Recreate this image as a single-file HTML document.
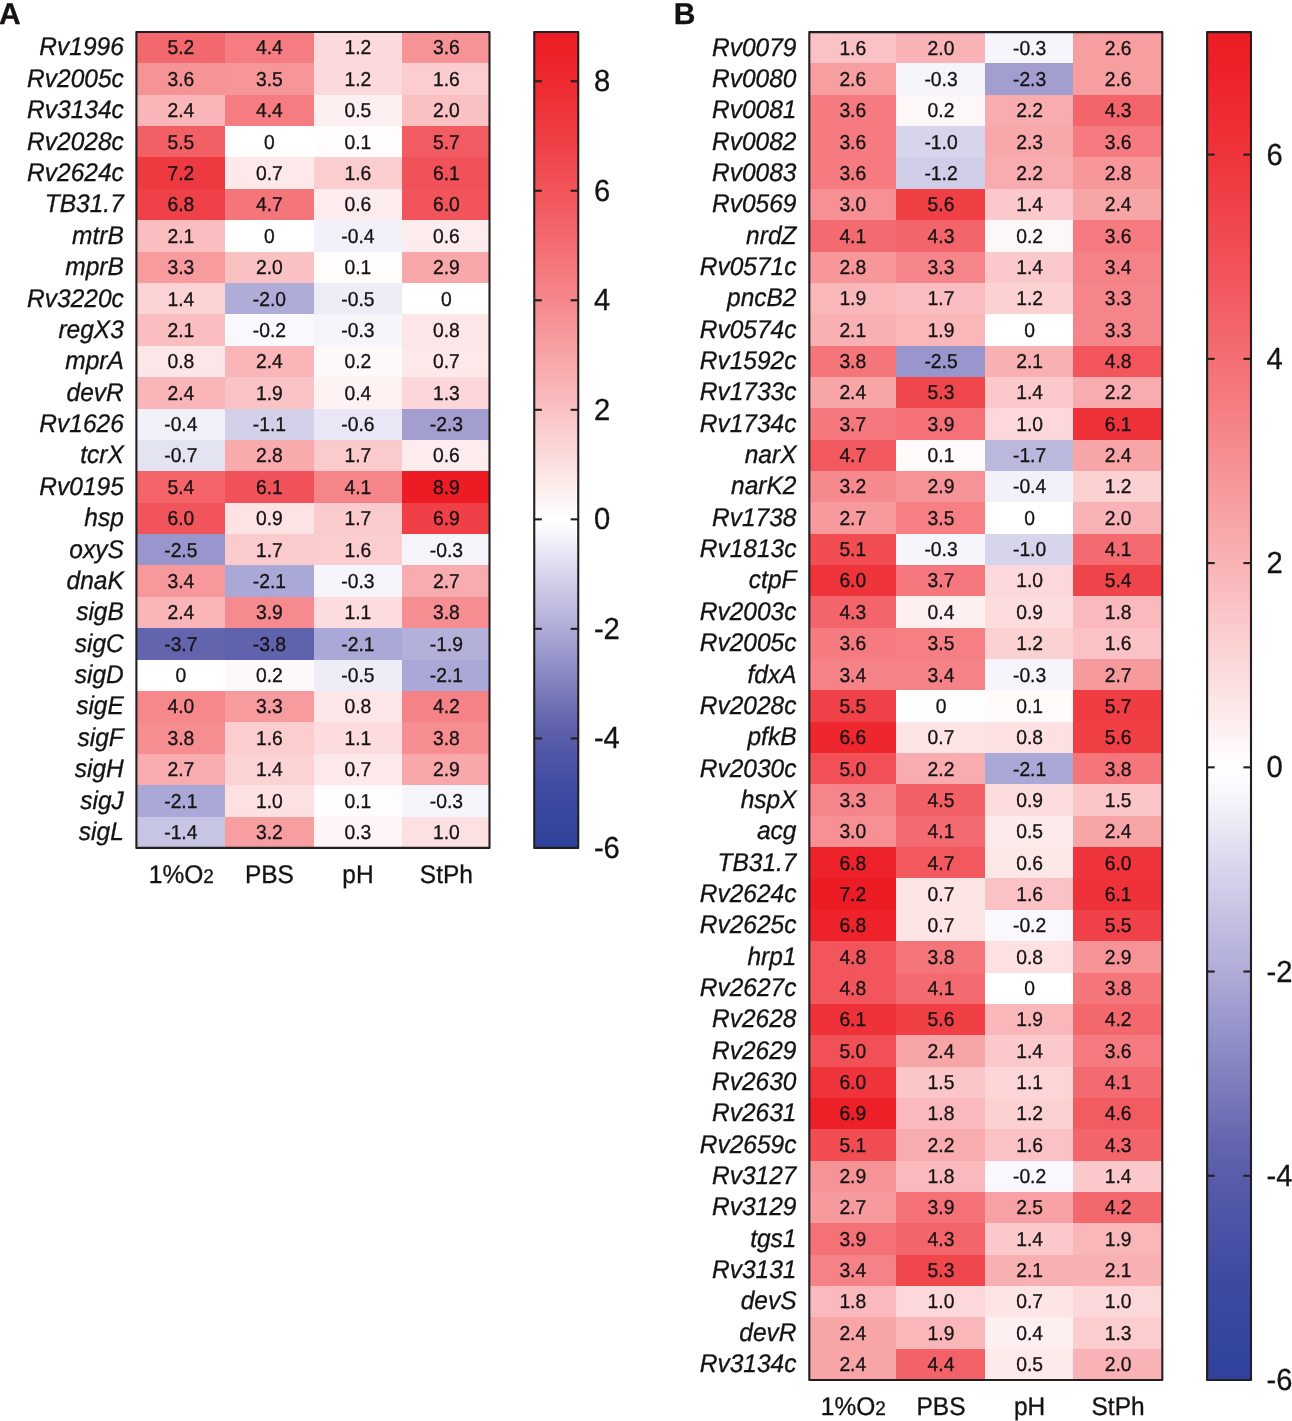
<!DOCTYPE html>
<html><head><meta charset="utf-8"><title>Heatmap</title>
<style>html,body{margin:0;padding:0;background:#fff}svg{display:block;will-change:transform}text{font-family:'Liberation Sans',sans-serif;fill:#161213;stroke:#161213;stroke-width:0.3px;text-rendering:geometricPrecision}</style></head>
<body><svg width="1292" height="1421" viewBox="0 0 1292 1421">
<rect width="1292" height="1421" fill="#fff"/>
<g shape-rendering="crispEdges">
<rect x="136.40" y="31.95" width="89.30" height="31.98" fill="#f3686d"/>
<rect x="225.10" y="31.95" width="89.25" height="31.98" fill="#f57d81"/>
<rect x="313.75" y="31.95" width="89.00" height="31.98" fill="#fcd9db"/>
<rect x="402.15" y="31.95" width="87.35" height="31.98" fill="#f69397"/>
<rect x="136.40" y="63.33" width="89.30" height="31.98" fill="#f69397"/>
<rect x="225.10" y="63.33" width="89.25" height="31.98" fill="#f79699"/>
<rect x="313.75" y="63.33" width="89.00" height="31.98" fill="#fcd9db"/>
<rect x="402.15" y="63.33" width="87.35" height="31.98" fill="#fbcdcf"/>
<rect x="136.40" y="94.72" width="89.30" height="31.98" fill="#f9b5b8"/>
<rect x="225.10" y="94.72" width="89.25" height="31.98" fill="#f57d81"/>
<rect x="313.75" y="94.72" width="89.00" height="31.98" fill="#feeff0"/>
<rect x="402.15" y="94.72" width="87.35" height="31.98" fill="#fac1c3"/>
<rect x="136.40" y="126.10" width="89.30" height="31.98" fill="#f26066"/>
<rect x="225.10" y="126.10" width="89.25" height="31.98" fill="#ffffff"/>
<rect x="313.75" y="126.10" width="89.00" height="31.98" fill="#fffcfc"/>
<rect x="402.15" y="126.10" width="87.35" height="31.98" fill="#f25b61"/>
<rect x="136.40" y="157.48" width="89.30" height="31.98" fill="#ef3940"/>
<rect x="225.10" y="157.48" width="89.25" height="31.98" fill="#fde9ea"/>
<rect x="313.75" y="157.48" width="89.00" height="31.98" fill="#fbcdcf"/>
<rect x="402.15" y="157.48" width="87.35" height="31.98" fill="#f15158"/>
<rect x="136.40" y="188.86" width="89.30" height="31.98" fill="#f04148"/>
<rect x="225.10" y="188.86" width="89.25" height="31.98" fill="#f4757a"/>
<rect x="313.75" y="188.86" width="89.00" height="31.98" fill="#fdeced"/>
<rect x="402.15" y="188.86" width="87.35" height="31.98" fill="#f1545a"/>
<rect x="136.40" y="220.25" width="89.30" height="31.98" fill="#fabec0"/>
<rect x="225.10" y="220.25" width="89.25" height="31.98" fill="#ffffff"/>
<rect x="313.75" y="220.25" width="89.00" height="31.98" fill="#f2f0f9"/>
<rect x="402.15" y="220.25" width="87.35" height="31.98" fill="#fdeced"/>
<rect x="136.40" y="251.63" width="89.30" height="31.98" fill="#f79b9f"/>
<rect x="225.10" y="251.63" width="89.25" height="31.98" fill="#fac1c3"/>
<rect x="313.75" y="251.63" width="89.00" height="31.98" fill="#fffcfc"/>
<rect x="402.15" y="251.63" width="87.35" height="31.98" fill="#f8a7aa"/>
<rect x="136.40" y="283.01" width="89.30" height="31.98" fill="#fcd3d5"/>
<rect x="225.10" y="283.01" width="89.25" height="31.98" fill="#afacd8"/>
<rect x="313.75" y="283.01" width="89.00" height="31.98" fill="#edecf7"/>
<rect x="402.15" y="283.01" width="87.35" height="31.98" fill="#ffffff"/>
<rect x="136.40" y="314.39" width="89.30" height="31.98" fill="#fabec0"/>
<rect x="225.10" y="314.39" width="89.25" height="31.98" fill="#f9f8fc"/>
<rect x="313.75" y="314.39" width="89.00" height="31.98" fill="#f6f5fb"/>
<rect x="402.15" y="314.39" width="87.35" height="31.98" fill="#fde6e7"/>
<rect x="136.40" y="345.78" width="89.30" height="31.98" fill="#fde6e7"/>
<rect x="225.10" y="345.78" width="89.25" height="31.98" fill="#f9b5b8"/>
<rect x="313.75" y="345.78" width="89.00" height="31.98" fill="#fef9f9"/>
<rect x="402.15" y="345.78" width="87.35" height="31.98" fill="#fde9ea"/>
<rect x="136.40" y="377.16" width="89.30" height="31.98" fill="#f9b5b8"/>
<rect x="225.10" y="377.16" width="89.25" height="31.98" fill="#fac4c6"/>
<rect x="313.75" y="377.16" width="89.00" height="31.98" fill="#fef2f3"/>
<rect x="402.15" y="377.16" width="87.35" height="31.98" fill="#fcd6d8"/>
<rect x="136.40" y="408.54" width="89.30" height="31.98" fill="#f2f0f9"/>
<rect x="225.10" y="408.54" width="89.25" height="31.98" fill="#d3d1ea"/>
<rect x="313.75" y="408.54" width="89.00" height="31.98" fill="#e9e7f5"/>
<rect x="402.15" y="408.54" width="87.35" height="31.98" fill="#a29fd0"/>
<rect x="136.40" y="439.92" width="89.30" height="31.98" fill="#e4e3f2"/>
<rect x="225.10" y="439.92" width="89.25" height="31.98" fill="#f8aaad"/>
<rect x="313.75" y="439.92" width="89.00" height="31.98" fill="#fbcacc"/>
<rect x="402.15" y="439.92" width="87.35" height="31.98" fill="#fdeced"/>
<rect x="136.40" y="471.31" width="89.30" height="31.98" fill="#f36368"/>
<rect x="225.10" y="471.31" width="89.25" height="31.98" fill="#f15158"/>
<rect x="313.75" y="471.31" width="89.00" height="31.98" fill="#f58589"/>
<rect x="402.15" y="471.31" width="87.35" height="31.98" fill="#ed1c24"/>
<rect x="136.40" y="502.69" width="89.30" height="31.98" fill="#f1545a"/>
<rect x="225.10" y="502.69" width="89.25" height="31.98" fill="#fde3e4"/>
<rect x="313.75" y="502.69" width="89.00" height="31.98" fill="#fbcacc"/>
<rect x="402.15" y="502.69" width="87.35" height="31.98" fill="#f03f46"/>
<rect x="136.40" y="534.07" width="89.30" height="31.98" fill="#9896cc"/>
<rect x="225.10" y="534.07" width="89.25" height="31.98" fill="#fbcacc"/>
<rect x="313.75" y="534.07" width="89.00" height="31.98" fill="#fbcdcf"/>
<rect x="402.15" y="534.07" width="87.35" height="31.98" fill="#f6f5fb"/>
<rect x="136.40" y="565.46" width="89.30" height="31.98" fill="#f7989c"/>
<rect x="225.10" y="565.46" width="89.25" height="31.98" fill="#aaa8d6"/>
<rect x="313.75" y="565.46" width="89.00" height="31.98" fill="#f6f5fb"/>
<rect x="402.15" y="565.46" width="87.35" height="31.98" fill="#f8acaf"/>
<rect x="136.40" y="596.84" width="89.30" height="31.98" fill="#f9b5b8"/>
<rect x="225.10" y="596.84" width="89.25" height="31.98" fill="#f68a8f"/>
<rect x="313.75" y="596.84" width="89.00" height="31.98" fill="#fcdcde"/>
<rect x="402.15" y="596.84" width="87.35" height="31.98" fill="#f68d91"/>
<rect x="136.40" y="628.22" width="89.30" height="31.98" fill="#6265ae"/>
<rect x="225.10" y="628.22" width="89.25" height="31.98" fill="#5f62ad"/>
<rect x="313.75" y="628.22" width="89.00" height="31.98" fill="#aaa8d6"/>
<rect x="402.15" y="628.22" width="87.35" height="31.98" fill="#b3b0da"/>
<rect x="136.40" y="659.60" width="89.30" height="31.98" fill="#ffffff"/>
<rect x="225.10" y="659.60" width="89.25" height="31.98" fill="#fef9f9"/>
<rect x="313.75" y="659.60" width="89.00" height="31.98" fill="#edecf7"/>
<rect x="402.15" y="659.60" width="87.35" height="31.98" fill="#aaa8d6"/>
<rect x="136.40" y="690.99" width="89.30" height="31.98" fill="#f6888c"/>
<rect x="225.10" y="690.99" width="89.25" height="31.98" fill="#f79b9f"/>
<rect x="313.75" y="690.99" width="89.00" height="31.98" fill="#fde6e7"/>
<rect x="402.15" y="690.99" width="87.35" height="31.98" fill="#f58287"/>
<rect x="136.40" y="722.37" width="89.30" height="31.98" fill="#f68d91"/>
<rect x="225.10" y="722.37" width="89.25" height="31.98" fill="#fbcdcf"/>
<rect x="313.75" y="722.37" width="89.00" height="31.98" fill="#fcdcde"/>
<rect x="402.15" y="722.37" width="87.35" height="31.98" fill="#f68d91"/>
<rect x="136.40" y="753.75" width="89.30" height="31.98" fill="#f8acaf"/>
<rect x="225.10" y="753.75" width="89.25" height="31.98" fill="#fcd3d5"/>
<rect x="313.75" y="753.75" width="89.00" height="31.98" fill="#fde9ea"/>
<rect x="402.15" y="753.75" width="87.35" height="31.98" fill="#f8a7aa"/>
<rect x="136.40" y="785.13" width="89.30" height="31.98" fill="#aaa8d6"/>
<rect x="225.10" y="785.13" width="89.25" height="31.98" fill="#fde0e1"/>
<rect x="313.75" y="785.13" width="89.00" height="31.98" fill="#fffcfc"/>
<rect x="402.15" y="785.13" width="87.35" height="31.98" fill="#f6f5fb"/>
<rect x="136.40" y="816.52" width="89.30" height="31.38" fill="#c7c5e4"/>
<rect x="225.10" y="816.52" width="89.25" height="31.38" fill="#f79ea1"/>
<rect x="313.75" y="816.52" width="89.00" height="31.38" fill="#fef5f6"/>
<rect x="402.15" y="816.52" width="87.35" height="31.38" fill="#fde0e1"/>
</g>
<rect x="136.40" y="31.95" width="353.10" height="815.95" fill="none" stroke="#231f20" stroke-width="2.1" stroke-linejoin="round"/>
<g font-size="19.3" text-anchor="middle" transform="scale(1,1.045)">
<text x="180.85" y="51.69">5.2</text>
<text x="269.40" y="51.69">4.4</text>
<text x="357.95" y="51.69">1.2</text>
<text x="446.40" y="51.69">3.6</text>
<text x="180.85" y="82.32">3.6</text>
<text x="269.40" y="82.32">3.5</text>
<text x="357.95" y="82.32">1.2</text>
<text x="446.40" y="82.32">1.6</text>
<text x="180.85" y="111.98">2.4</text>
<text x="269.40" y="111.98">4.4</text>
<text x="357.95" y="111.98">0.5</text>
<text x="446.40" y="111.98">2.0</text>
<text x="180.85" y="142.60">5.5</text>
<text x="269.40" y="142.60">0</text>
<text x="357.95" y="142.60">0.1</text>
<text x="446.40" y="142.60">5.7</text>
<text x="180.85" y="172.27">7.2</text>
<text x="269.40" y="172.27">0.7</text>
<text x="357.95" y="172.27">1.6</text>
<text x="446.40" y="172.27">6.1</text>
<text x="180.85" y="201.93">6.8</text>
<text x="269.40" y="201.93">4.7</text>
<text x="357.95" y="201.93">0.6</text>
<text x="446.40" y="201.93">6.0</text>
<text x="180.85" y="232.56">2.1</text>
<text x="269.40" y="232.56">0</text>
<text x="357.95" y="232.56">-0.4</text>
<text x="446.40" y="232.56">0.6</text>
<text x="180.85" y="262.22">3.3</text>
<text x="269.40" y="262.22">2.0</text>
<text x="357.95" y="262.22">0.1</text>
<text x="446.40" y="262.22">2.9</text>
<text x="180.85" y="292.84">1.4</text>
<text x="269.40" y="292.84">-2.0</text>
<text x="357.95" y="292.84">-0.5</text>
<text x="446.40" y="292.84">0</text>
<text x="180.85" y="322.51">2.1</text>
<text x="269.40" y="322.51">-0.2</text>
<text x="357.95" y="322.51">-0.3</text>
<text x="446.40" y="322.51">0.8</text>
<text x="180.85" y="352.17">0.8</text>
<text x="269.40" y="352.17">2.4</text>
<text x="357.95" y="352.17">0.2</text>
<text x="446.40" y="352.17">0.7</text>
<text x="180.85" y="382.79">2.4</text>
<text x="269.40" y="382.79">1.9</text>
<text x="357.95" y="382.79">0.4</text>
<text x="446.40" y="382.79">1.3</text>
<text x="180.85" y="412.46">-0.4</text>
<text x="269.40" y="412.46">-1.1</text>
<text x="357.95" y="412.46">-0.6</text>
<text x="446.40" y="412.46">-2.3</text>
<text x="180.85" y="442.12">-0.7</text>
<text x="269.40" y="442.12">2.8</text>
<text x="357.95" y="442.12">1.7</text>
<text x="446.40" y="442.12">0.6</text>
<text x="180.85" y="472.75">5.4</text>
<text x="269.40" y="472.75">6.1</text>
<text x="357.95" y="472.75">4.1</text>
<text x="446.40" y="472.75">8.9</text>
<text x="180.85" y="502.41">6.0</text>
<text x="269.40" y="502.41">0.9</text>
<text x="357.95" y="502.41">1.7</text>
<text x="446.40" y="502.41">6.9</text>
<text x="180.85" y="533.03">-2.5</text>
<text x="269.40" y="533.03">1.7</text>
<text x="357.95" y="533.03">1.6</text>
<text x="446.40" y="533.03">-0.3</text>
<text x="180.85" y="562.70">3.4</text>
<text x="269.40" y="562.70">-2.1</text>
<text x="357.95" y="562.70">-0.3</text>
<text x="446.40" y="562.70">2.7</text>
<text x="180.85" y="592.36">2.4</text>
<text x="269.40" y="592.36">3.9</text>
<text x="357.95" y="592.36">1.1</text>
<text x="446.40" y="592.36">3.8</text>
<text x="180.85" y="622.99">-3.7</text>
<text x="269.40" y="622.99">-3.8</text>
<text x="357.95" y="622.99">-2.1</text>
<text x="446.40" y="622.99">-1.9</text>
<text x="180.85" y="652.65">0</text>
<text x="269.40" y="652.65">0.2</text>
<text x="357.95" y="652.65">-0.5</text>
<text x="446.40" y="652.65">-2.1</text>
<text x="180.85" y="682.32">4.0</text>
<text x="269.40" y="682.32">3.3</text>
<text x="357.95" y="682.32">0.8</text>
<text x="446.40" y="682.32">4.2</text>
<text x="180.85" y="712.94">3.8</text>
<text x="269.40" y="712.94">1.6</text>
<text x="357.95" y="712.94">1.1</text>
<text x="446.40" y="712.94">3.8</text>
<text x="180.85" y="742.60">2.7</text>
<text x="269.40" y="742.60">1.4</text>
<text x="357.95" y="742.60">0.7</text>
<text x="446.40" y="742.60">2.9</text>
<text x="180.85" y="773.22">-2.1</text>
<text x="269.40" y="773.22">1.0</text>
<text x="357.95" y="773.22">0.1</text>
<text x="446.40" y="773.22">-0.3</text>
<text x="180.85" y="802.89">-1.4</text>
<text x="269.40" y="802.89">3.2</text>
<text x="357.95" y="802.89">0.3</text>
<text x="446.40" y="802.89">1.0</text>
</g>
<g font-size="24.5" font-style="italic" text-anchor="end" transform="scale(1,1.045)">
<text x="123.80" y="52.65">Rv1996</text>
<text x="123.80" y="83.27">Rv2005c</text>
<text x="123.80" y="112.94">Rv3134c</text>
<text x="123.80" y="143.56">Rv2028c</text>
<text x="123.80" y="173.22">Rv2624c</text>
<text x="123.80" y="202.89">TB31.7</text>
<text x="123.80" y="233.51">mtrB</text>
<text x="123.80" y="263.18">mprB</text>
<text x="123.80" y="293.80">Rv3220c</text>
<text x="123.80" y="323.46">regX3</text>
<text x="123.80" y="353.13">mprA</text>
<text x="123.80" y="383.75">devR</text>
<text x="123.80" y="413.42">Rv1626</text>
<text x="123.80" y="443.08">tcrX</text>
<text x="123.80" y="473.70">Rv0195</text>
<text x="123.80" y="503.37">hsp</text>
<text x="123.80" y="533.99">oxyS</text>
<text x="123.80" y="563.66">dnaK</text>
<text x="123.80" y="593.32">sigB</text>
<text x="123.80" y="623.94">sigC</text>
<text x="123.80" y="653.61">sigD</text>
<text x="123.80" y="683.27">sigE</text>
<text x="123.80" y="713.89">sigF</text>
<text x="123.80" y="743.56">sigH</text>
<text x="123.80" y="774.18">sigJ</text>
<text x="123.80" y="803.85">sigL</text>
</g>
<g font-size="24.5" text-anchor="middle" transform="scale(1,1.045)">
<text x="181.35" y="845.00">1%O<tspan font-size="19">2</tspan></text>
<text x="269.40" y="845.00">PBS</text>
<text x="357.95" y="845.00">pH</text>
<text x="446.40" y="845.00">StPh</text>
</g>
<defs><linearGradient id="gA" x1="0" y1="0" x2="0" y2="1">
<stop offset="0.0000" stop-color="#ed1c24"/>
<stop offset="0.0249" stop-color="#ed2028"/>
<stop offset="0.0498" stop-color="#ee262e"/>
<stop offset="0.0747" stop-color="#ee2d34"/>
<stop offset="0.0996" stop-color="#ef343b"/>
<stop offset="0.1244" stop-color="#f03c43"/>
<stop offset="0.1493" stop-color="#f0444b"/>
<stop offset="0.1742" stop-color="#f14d53"/>
<stop offset="0.1991" stop-color="#f2555b"/>
<stop offset="0.2240" stop-color="#f25f64"/>
<stop offset="0.2489" stop-color="#f3686d"/>
<stop offset="0.2738" stop-color="#f47277"/>
<stop offset="0.2987" stop-color="#f57b80"/>
<stop offset="0.3235" stop-color="#f5858a"/>
<stop offset="0.3484" stop-color="#f69094"/>
<stop offset="0.3733" stop-color="#f79a9e"/>
<stop offset="0.3982" stop-color="#f8a5a8"/>
<stop offset="0.4231" stop-color="#f9b0b2"/>
<stop offset="0.4480" stop-color="#fababd"/>
<stop offset="0.4729" stop-color="#fac6c8"/>
<stop offset="0.4978" stop-color="#fbd1d2"/>
<stop offset="0.5227" stop-color="#fcdcdd"/>
<stop offset="0.5475" stop-color="#fde8e8"/>
<stop offset="0.5724" stop-color="#fef3f4"/>
<stop offset="0.5973" stop-color="#ffffff"/>
<stop offset="0.5973" stop-color="#ffffff"/>
<stop offset="0.6174" stop-color="#f6f5fb"/>
<stop offset="0.6644" stop-color="#d7d5ec"/>
<stop offset="0.7315" stop-color="#afacd8"/>
<stop offset="0.7987" stop-color="#8281bf"/>
<stop offset="0.8456" stop-color="#6265ae"/>
<stop offset="0.8658" stop-color="#585caa"/>
<stop offset="0.9329" stop-color="#3e4aa0"/>
<stop offset="1.0000" stop-color="#2f429b"/>
</linearGradient></defs>
<rect x="534.25" y="31.95" width="44.00" height="815.95" fill="url(#gA)" stroke="#231f20" stroke-width="2.1" stroke-linejoin="round"/>
<g stroke="#231f20" stroke-width="2.1">
<line x1="534.25" y1="81.24" x2="541.85" y2="81.24"/>
<line x1="570.65" y1="81.24" x2="578.25" y2="81.24"/>
<line x1="534.25" y1="190.76" x2="541.85" y2="190.76"/>
<line x1="570.65" y1="190.76" x2="578.25" y2="190.76"/>
<line x1="534.25" y1="300.28" x2="541.85" y2="300.28"/>
<line x1="570.65" y1="300.28" x2="578.25" y2="300.28"/>
<line x1="534.25" y1="409.81" x2="541.85" y2="409.81"/>
<line x1="570.65" y1="409.81" x2="578.25" y2="409.81"/>
<line x1="534.25" y1="519.33" x2="541.85" y2="519.33"/>
<line x1="570.65" y1="519.33" x2="578.25" y2="519.33"/>
<line x1="534.25" y1="628.85" x2="541.85" y2="628.85"/>
<line x1="570.65" y1="628.85" x2="578.25" y2="628.85"/>
<line x1="534.25" y1="738.38" x2="541.85" y2="738.38"/>
<line x1="570.65" y1="738.38" x2="578.25" y2="738.38"/>
</g>
<g font-size="29.2" transform="scale(1,1.045)">
<text x="593.90" y="87.10">8</text>
<text x="593.90" y="192.36">6</text>
<text x="593.90" y="296.67">4</text>
<text x="593.90" y="401.93">2</text>
<text x="593.90" y="506.24">0</text>
<text x="593.90" y="611.50">-2</text>
<text x="593.90" y="715.81">-4</text>
<text x="593.90" y="821.07">-6</text>
</g>
<text x="-1.00" y="24" font-size="30" font-weight="bold">A</text>
<g shape-rendering="crispEdges">
<rect x="809.30" y="32.10" width="87.50" height="31.95" fill="#fac2c4"/>
<rect x="896.20" y="32.10" width="89.25" height="31.95" fill="#f9b3b6"/>
<rect x="984.85" y="32.10" width="89.15" height="31.95" fill="#f6f5fb"/>
<rect x="1073.40" y="32.10" width="88.90" height="31.95" fill="#f79ea1"/>
<rect x="809.30" y="63.45" width="87.50" height="31.95" fill="#f79ea1"/>
<rect x="896.20" y="63.45" width="89.25" height="31.95" fill="#f6f5fb"/>
<rect x="984.85" y="63.45" width="89.15" height="31.95" fill="#a29fd0"/>
<rect x="1073.40" y="63.45" width="88.90" height="31.95" fill="#f79ea1"/>
<rect x="809.30" y="94.79" width="87.50" height="31.95" fill="#f57b80"/>
<rect x="896.20" y="94.79" width="89.25" height="31.95" fill="#fef7f7"/>
<rect x="984.85" y="94.79" width="89.15" height="31.95" fill="#f8acaf"/>
<rect x="1073.40" y="94.79" width="88.90" height="31.95" fill="#f3656a"/>
<rect x="809.30" y="126.14" width="87.50" height="31.95" fill="#f57b80"/>
<rect x="896.20" y="126.14" width="89.25" height="31.95" fill="#d7d5ec"/>
<rect x="984.85" y="126.14" width="89.15" height="31.95" fill="#f8a8ab"/>
<rect x="1073.40" y="126.14" width="88.90" height="31.95" fill="#f57b80"/>
<rect x="809.30" y="157.49" width="87.50" height="31.95" fill="#f57b80"/>
<rect x="896.20" y="157.49" width="89.25" height="31.95" fill="#cfcde8"/>
<rect x="984.85" y="157.49" width="89.15" height="31.95" fill="#f8acaf"/>
<rect x="1073.40" y="157.49" width="88.90" height="31.95" fill="#f7979a"/>
<rect x="809.30" y="188.83" width="87.50" height="31.95" fill="#f69094"/>
<rect x="896.20" y="188.83" width="89.25" height="31.95" fill="#f03f45"/>
<rect x="984.85" y="188.83" width="89.15" height="31.95" fill="#fbc9cb"/>
<rect x="1073.40" y="188.83" width="88.90" height="31.95" fill="#f8a5a8"/>
<rect x="809.30" y="220.18" width="87.50" height="31.95" fill="#f36b70"/>
<rect x="896.20" y="220.18" width="89.25" height="31.95" fill="#f3656a"/>
<rect x="984.85" y="220.18" width="89.15" height="31.95" fill="#fef7f7"/>
<rect x="1073.40" y="220.18" width="88.90" height="31.95" fill="#f57b80"/>
<rect x="809.30" y="251.53" width="87.50" height="31.95" fill="#f7979a"/>
<rect x="896.20" y="251.53" width="89.25" height="31.95" fill="#f5858a"/>
<rect x="984.85" y="251.53" width="89.15" height="31.95" fill="#fbc9cb"/>
<rect x="1073.40" y="251.53" width="88.90" height="31.95" fill="#f58287"/>
<rect x="809.30" y="282.87" width="87.50" height="31.95" fill="#f9b7b9"/>
<rect x="896.20" y="282.87" width="89.25" height="31.95" fill="#fabec0"/>
<rect x="984.85" y="282.87" width="89.15" height="31.95" fill="#fbd1d2"/>
<rect x="1073.40" y="282.87" width="88.90" height="31.95" fill="#f5858a"/>
<rect x="809.30" y="314.22" width="87.50" height="31.95" fill="#f9b0b2"/>
<rect x="896.20" y="314.22" width="89.25" height="31.95" fill="#f9b7b9"/>
<rect x="984.85" y="314.22" width="89.15" height="31.95" fill="#ffffff"/>
<rect x="1073.40" y="314.22" width="88.90" height="31.95" fill="#f5858a"/>
<rect x="809.30" y="345.57" width="87.50" height="31.95" fill="#f4757a"/>
<rect x="896.20" y="345.57" width="89.25" height="31.95" fill="#9896cc"/>
<rect x="984.85" y="345.57" width="89.15" height="31.95" fill="#f9b0b2"/>
<rect x="1073.40" y="345.57" width="88.90" height="31.95" fill="#f2555b"/>
<rect x="809.30" y="376.91" width="87.50" height="31.95" fill="#f8a5a8"/>
<rect x="896.20" y="376.91" width="89.25" height="31.95" fill="#f0474d"/>
<rect x="984.85" y="376.91" width="89.15" height="31.95" fill="#fbc9cb"/>
<rect x="1073.40" y="376.91" width="88.90" height="31.95" fill="#f8acaf"/>
<rect x="809.30" y="408.26" width="87.50" height="31.95" fill="#f4787d"/>
<rect x="896.20" y="408.26" width="89.25" height="31.95" fill="#f47277"/>
<rect x="984.85" y="408.26" width="89.15" height="31.95" fill="#fcd8da"/>
<rect x="1073.40" y="408.26" width="88.90" height="31.95" fill="#ef3239"/>
<rect x="809.30" y="439.60" width="87.50" height="31.95" fill="#f2595e"/>
<rect x="896.20" y="439.60" width="89.25" height="31.95" fill="#fffbfb"/>
<rect x="984.85" y="439.60" width="89.15" height="31.95" fill="#bbb8de"/>
<rect x="1073.40" y="439.60" width="88.90" height="31.95" fill="#f8a5a8"/>
<rect x="809.30" y="470.95" width="87.50" height="31.95" fill="#f6898d"/>
<rect x="896.20" y="470.95" width="89.25" height="31.95" fill="#f69397"/>
<rect x="984.85" y="470.95" width="89.15" height="31.95" fill="#f2f0f9"/>
<rect x="1073.40" y="470.95" width="88.90" height="31.95" fill="#fbd1d2"/>
<rect x="809.30" y="502.30" width="87.50" height="31.95" fill="#f79a9e"/>
<rect x="896.20" y="502.30" width="89.25" height="31.95" fill="#f57f83"/>
<rect x="984.85" y="502.30" width="89.15" height="31.95" fill="#ffffff"/>
<rect x="1073.40" y="502.30" width="88.90" height="31.95" fill="#f9b3b6"/>
<rect x="809.30" y="533.64" width="87.50" height="31.95" fill="#f14d53"/>
<rect x="896.20" y="533.64" width="89.25" height="31.95" fill="#f6f5fb"/>
<rect x="984.85" y="533.64" width="89.15" height="31.95" fill="#d7d5ec"/>
<rect x="1073.40" y="533.64" width="88.90" height="31.95" fill="#f36b70"/>
<rect x="809.30" y="564.99" width="87.50" height="31.95" fill="#ef343b"/>
<rect x="896.20" y="564.99" width="89.25" height="31.95" fill="#f4787d"/>
<rect x="984.85" y="564.99" width="89.15" height="31.95" fill="#fcd8da"/>
<rect x="1073.40" y="564.99" width="88.90" height="31.95" fill="#f0444b"/>
<rect x="809.30" y="596.34" width="87.50" height="31.95" fill="#f3656a"/>
<rect x="896.20" y="596.34" width="89.25" height="31.95" fill="#feeff0"/>
<rect x="984.85" y="596.34" width="89.15" height="31.95" fill="#fcdcdd"/>
<rect x="1073.40" y="596.34" width="88.90" height="31.95" fill="#fababd"/>
<rect x="809.30" y="627.68" width="87.50" height="31.95" fill="#f57b80"/>
<rect x="896.20" y="627.68" width="89.25" height="31.95" fill="#f57f83"/>
<rect x="984.85" y="627.68" width="89.15" height="31.95" fill="#fbd1d2"/>
<rect x="1073.40" y="627.68" width="88.90" height="31.95" fill="#fac2c4"/>
<rect x="809.30" y="659.03" width="87.50" height="31.95" fill="#f58287"/>
<rect x="896.20" y="659.03" width="89.25" height="31.95" fill="#f58287"/>
<rect x="984.85" y="659.03" width="89.15" height="31.95" fill="#f6f5fb"/>
<rect x="1073.40" y="659.03" width="88.90" height="31.95" fill="#f79a9e"/>
<rect x="809.30" y="690.38" width="87.50" height="31.95" fill="#f04148"/>
<rect x="896.20" y="690.38" width="89.25" height="31.95" fill="#ffffff"/>
<rect x="984.85" y="690.38" width="89.15" height="31.95" fill="#fffbfb"/>
<rect x="1073.40" y="690.38" width="88.90" height="31.95" fill="#f03c43"/>
<rect x="809.30" y="721.72" width="87.50" height="31.95" fill="#ee262e"/>
<rect x="896.20" y="721.72" width="89.25" height="31.95" fill="#fde4e5"/>
<rect x="984.85" y="721.72" width="89.15" height="31.95" fill="#fde0e1"/>
<rect x="1073.40" y="721.72" width="88.90" height="31.95" fill="#f03f45"/>
<rect x="809.30" y="753.07" width="87.50" height="31.95" fill="#f15056"/>
<rect x="896.20" y="753.07" width="89.25" height="31.95" fill="#f8acaf"/>
<rect x="984.85" y="753.07" width="89.15" height="31.95" fill="#aaa8d6"/>
<rect x="1073.40" y="753.07" width="88.90" height="31.95" fill="#f4757a"/>
<rect x="809.30" y="784.42" width="87.50" height="31.95" fill="#f5858a"/>
<rect x="896.20" y="784.42" width="89.25" height="31.95" fill="#f25f64"/>
<rect x="984.85" y="784.42" width="89.15" height="31.95" fill="#fcdcdd"/>
<rect x="1073.40" y="784.42" width="88.90" height="31.95" fill="#fac6c8"/>
<rect x="809.30" y="815.76" width="87.50" height="31.95" fill="#f69094"/>
<rect x="896.20" y="815.76" width="89.25" height="31.95" fill="#f36b70"/>
<rect x="984.85" y="815.76" width="89.15" height="31.95" fill="#fdebec"/>
<rect x="1073.40" y="815.76" width="88.90" height="31.95" fill="#f8a5a8"/>
<rect x="809.30" y="847.11" width="87.50" height="31.95" fill="#ed222a"/>
<rect x="896.20" y="847.11" width="89.25" height="31.95" fill="#f2595e"/>
<rect x="984.85" y="847.11" width="89.15" height="31.95" fill="#fde8e8"/>
<rect x="1073.40" y="847.11" width="88.90" height="31.95" fill="#ef343b"/>
<rect x="809.30" y="878.46" width="87.50" height="31.95" fill="#ed1c24"/>
<rect x="896.20" y="878.46" width="89.25" height="31.95" fill="#fde4e5"/>
<rect x="984.85" y="878.46" width="89.15" height="31.95" fill="#fac2c4"/>
<rect x="1073.40" y="878.46" width="88.90" height="31.95" fill="#ef3239"/>
<rect x="809.30" y="909.80" width="87.50" height="31.95" fill="#ed222a"/>
<rect x="896.20" y="909.80" width="89.25" height="31.95" fill="#fde4e5"/>
<rect x="984.85" y="909.80" width="89.15" height="31.95" fill="#f9f8fc"/>
<rect x="1073.40" y="909.80" width="88.90" height="31.95" fill="#f04148"/>
<rect x="809.30" y="941.15" width="87.50" height="31.95" fill="#f2555b"/>
<rect x="896.20" y="941.15" width="89.25" height="31.95" fill="#f4757a"/>
<rect x="984.85" y="941.15" width="89.15" height="31.95" fill="#fde0e1"/>
<rect x="1073.40" y="941.15" width="88.90" height="31.95" fill="#f69397"/>
<rect x="809.30" y="972.50" width="87.50" height="31.95" fill="#f2555b"/>
<rect x="896.20" y="972.50" width="89.25" height="31.95" fill="#f36b70"/>
<rect x="984.85" y="972.50" width="89.15" height="31.95" fill="#ffffff"/>
<rect x="1073.40" y="972.50" width="88.90" height="31.95" fill="#f4757a"/>
<rect x="809.30" y="1003.84" width="87.50" height="31.95" fill="#ef3239"/>
<rect x="896.20" y="1003.84" width="89.25" height="31.95" fill="#f03f45"/>
<rect x="984.85" y="1003.84" width="89.15" height="31.95" fill="#f9b7b9"/>
<rect x="1073.40" y="1003.84" width="88.90" height="31.95" fill="#f3686d"/>
<rect x="809.30" y="1035.19" width="87.50" height="31.95" fill="#f15056"/>
<rect x="896.20" y="1035.19" width="89.25" height="31.95" fill="#f8a5a8"/>
<rect x="984.85" y="1035.19" width="89.15" height="31.95" fill="#fbc9cb"/>
<rect x="1073.40" y="1035.19" width="88.90" height="31.95" fill="#f57b80"/>
<rect x="809.30" y="1066.53" width="87.50" height="31.95" fill="#ef343b"/>
<rect x="896.20" y="1066.53" width="89.25" height="31.95" fill="#fac6c8"/>
<rect x="984.85" y="1066.53" width="89.15" height="31.95" fill="#fcd5d6"/>
<rect x="1073.40" y="1066.53" width="88.90" height="31.95" fill="#f36b70"/>
<rect x="809.30" y="1097.88" width="87.50" height="31.95" fill="#ed2028"/>
<rect x="896.20" y="1097.88" width="89.25" height="31.95" fill="#fababd"/>
<rect x="984.85" y="1097.88" width="89.15" height="31.95" fill="#fbd1d2"/>
<rect x="1073.40" y="1097.88" width="88.90" height="31.95" fill="#f25c61"/>
<rect x="809.30" y="1129.23" width="87.50" height="31.95" fill="#f14d53"/>
<rect x="896.20" y="1129.23" width="89.25" height="31.95" fill="#f8acaf"/>
<rect x="984.85" y="1129.23" width="89.15" height="31.95" fill="#fac2c4"/>
<rect x="1073.40" y="1129.23" width="88.90" height="31.95" fill="#f3656a"/>
<rect x="809.30" y="1160.57" width="87.50" height="31.95" fill="#f69397"/>
<rect x="896.20" y="1160.57" width="89.25" height="31.95" fill="#fababd"/>
<rect x="984.85" y="1160.57" width="89.15" height="31.95" fill="#f9f8fc"/>
<rect x="1073.40" y="1160.57" width="88.90" height="31.95" fill="#fbc9cb"/>
<rect x="809.30" y="1191.92" width="87.50" height="31.95" fill="#f79a9e"/>
<rect x="896.20" y="1191.92" width="89.25" height="31.95" fill="#f47277"/>
<rect x="984.85" y="1191.92" width="89.15" height="31.95" fill="#f8a1a4"/>
<rect x="1073.40" y="1191.92" width="88.90" height="31.95" fill="#f3686d"/>
<rect x="809.30" y="1223.27" width="87.50" height="31.95" fill="#f47277"/>
<rect x="896.20" y="1223.27" width="89.25" height="31.95" fill="#f3656a"/>
<rect x="984.85" y="1223.27" width="89.15" height="31.95" fill="#fbc9cb"/>
<rect x="1073.40" y="1223.27" width="88.90" height="31.95" fill="#f9b7b9"/>
<rect x="809.30" y="1254.61" width="87.50" height="31.95" fill="#f58287"/>
<rect x="896.20" y="1254.61" width="89.25" height="31.95" fill="#f0474d"/>
<rect x="984.85" y="1254.61" width="89.15" height="31.95" fill="#f9b0b2"/>
<rect x="1073.40" y="1254.61" width="88.90" height="31.95" fill="#f9b0b2"/>
<rect x="809.30" y="1285.96" width="87.50" height="31.95" fill="#fababd"/>
<rect x="896.20" y="1285.96" width="89.25" height="31.95" fill="#fcd8da"/>
<rect x="984.85" y="1285.96" width="89.15" height="31.95" fill="#fde4e5"/>
<rect x="1073.40" y="1285.96" width="88.90" height="31.95" fill="#fcd8da"/>
<rect x="809.30" y="1317.31" width="87.50" height="31.95" fill="#f8a5a8"/>
<rect x="896.20" y="1317.31" width="89.25" height="31.95" fill="#f9b7b9"/>
<rect x="984.85" y="1317.31" width="89.15" height="31.95" fill="#feeff0"/>
<rect x="1073.40" y="1317.31" width="88.90" height="31.95" fill="#fbcdcf"/>
<rect x="809.30" y="1348.65" width="87.50" height="31.35" fill="#f8a5a8"/>
<rect x="896.20" y="1348.65" width="89.25" height="31.35" fill="#f36267"/>
<rect x="984.85" y="1348.65" width="89.15" height="31.35" fill="#fdebec"/>
<rect x="1073.40" y="1348.65" width="88.90" height="31.35" fill="#f9b3b6"/>
</g>
<rect x="809.30" y="32.10" width="353.00" height="1347.90" fill="none" stroke="#231f20" stroke-width="2.1" stroke-linejoin="round"/>
<g font-size="19.3" text-anchor="middle" transform="scale(1,1.045)">
<text x="852.80" y="52.65">1.6</text>
<text x="941.00" y="52.65">2.0</text>
<text x="1029.60" y="52.65">-0.3</text>
<text x="1118.10" y="52.65">2.6</text>
<text x="852.80" y="82.32">2.6</text>
<text x="941.00" y="82.32">-0.3</text>
<text x="1029.60" y="82.32">-2.3</text>
<text x="1118.10" y="82.32">2.6</text>
<text x="852.80" y="111.98">3.6</text>
<text x="941.00" y="111.98">0.2</text>
<text x="1029.60" y="111.98">2.2</text>
<text x="1118.10" y="111.98">4.3</text>
<text x="852.80" y="142.60">3.6</text>
<text x="941.00" y="142.60">-1.0</text>
<text x="1029.60" y="142.60">2.3</text>
<text x="1118.10" y="142.60">3.6</text>
<text x="852.80" y="172.27">3.6</text>
<text x="941.00" y="172.27">-1.2</text>
<text x="1029.60" y="172.27">2.2</text>
<text x="1118.10" y="172.27">2.8</text>
<text x="852.80" y="201.93">3.0</text>
<text x="941.00" y="201.93">5.6</text>
<text x="1029.60" y="201.93">1.4</text>
<text x="1118.10" y="201.93">2.4</text>
<text x="852.80" y="232.56">4.1</text>
<text x="941.00" y="232.56">4.3</text>
<text x="1029.60" y="232.56">0.2</text>
<text x="1118.10" y="232.56">3.6</text>
<text x="852.80" y="262.22">2.8</text>
<text x="941.00" y="262.22">3.3</text>
<text x="1029.60" y="262.22">1.4</text>
<text x="1118.10" y="262.22">3.4</text>
<text x="852.80" y="291.89">1.9</text>
<text x="941.00" y="291.89">1.7</text>
<text x="1029.60" y="291.89">1.2</text>
<text x="1118.10" y="291.89">3.3</text>
<text x="852.80" y="322.51">2.1</text>
<text x="941.00" y="322.51">1.9</text>
<text x="1029.60" y="322.51">0</text>
<text x="1118.10" y="322.51">3.3</text>
<text x="852.80" y="352.17">3.8</text>
<text x="941.00" y="352.17">-2.5</text>
<text x="1029.60" y="352.17">2.1</text>
<text x="1118.10" y="352.17">4.8</text>
<text x="852.80" y="381.84">2.4</text>
<text x="941.00" y="381.84">5.3</text>
<text x="1029.60" y="381.84">1.4</text>
<text x="1118.10" y="381.84">2.2</text>
<text x="852.80" y="412.46">3.7</text>
<text x="941.00" y="412.46">3.9</text>
<text x="1029.60" y="412.46">1.0</text>
<text x="1118.10" y="412.46">6.1</text>
<text x="852.80" y="442.12">4.7</text>
<text x="941.00" y="442.12">0.1</text>
<text x="1029.60" y="442.12">-1.7</text>
<text x="1118.10" y="442.12">2.4</text>
<text x="852.80" y="471.79">3.2</text>
<text x="941.00" y="471.79">2.9</text>
<text x="1029.60" y="471.79">-0.4</text>
<text x="1118.10" y="471.79">1.2</text>
<text x="852.80" y="502.41">2.7</text>
<text x="941.00" y="502.41">3.5</text>
<text x="1029.60" y="502.41">0</text>
<text x="1118.10" y="502.41">2.0</text>
<text x="852.80" y="532.08">5.1</text>
<text x="941.00" y="532.08">-0.3</text>
<text x="1029.60" y="532.08">-1.0</text>
<text x="1118.10" y="532.08">4.1</text>
<text x="852.80" y="561.74">6.0</text>
<text x="941.00" y="561.74">3.7</text>
<text x="1029.60" y="561.74">1.0</text>
<text x="1118.10" y="561.74">5.4</text>
<text x="852.80" y="592.36">4.3</text>
<text x="941.00" y="592.36">0.4</text>
<text x="1029.60" y="592.36">0.9</text>
<text x="1118.10" y="592.36">1.8</text>
<text x="852.80" y="622.03">3.6</text>
<text x="941.00" y="622.03">3.5</text>
<text x="1029.60" y="622.03">1.2</text>
<text x="1118.10" y="622.03">1.6</text>
<text x="852.80" y="652.65">3.4</text>
<text x="941.00" y="652.65">3.4</text>
<text x="1029.60" y="652.65">-0.3</text>
<text x="1118.10" y="652.65">2.7</text>
<text x="852.80" y="682.32">5.5</text>
<text x="941.00" y="682.32">0</text>
<text x="1029.60" y="682.32">0.1</text>
<text x="1118.10" y="682.32">5.7</text>
<text x="852.80" y="711.98">6.6</text>
<text x="941.00" y="711.98">0.7</text>
<text x="1029.60" y="711.98">0.8</text>
<text x="1118.10" y="711.98">5.6</text>
<text x="852.80" y="742.60">5.0</text>
<text x="941.00" y="742.60">2.2</text>
<text x="1029.60" y="742.60">-2.1</text>
<text x="1118.10" y="742.60">3.8</text>
<text x="852.80" y="772.27">3.3</text>
<text x="941.00" y="772.27">4.5</text>
<text x="1029.60" y="772.27">0.9</text>
<text x="1118.10" y="772.27">1.5</text>
<text x="852.80" y="801.93">3.0</text>
<text x="941.00" y="801.93">4.1</text>
<text x="1029.60" y="801.93">0.5</text>
<text x="1118.10" y="801.93">2.4</text>
<text x="852.80" y="832.56">6.8</text>
<text x="941.00" y="832.56">4.7</text>
<text x="1029.60" y="832.56">0.6</text>
<text x="1118.10" y="832.56">6.0</text>
<text x="852.80" y="862.22">7.2</text>
<text x="941.00" y="862.22">0.7</text>
<text x="1029.60" y="862.22">1.6</text>
<text x="1118.10" y="862.22">6.1</text>
<text x="852.80" y="891.89">6.8</text>
<text x="941.00" y="891.89">0.7</text>
<text x="1029.60" y="891.89">-0.2</text>
<text x="1118.10" y="891.89">5.5</text>
<text x="852.80" y="922.51">4.8</text>
<text x="941.00" y="922.51">3.8</text>
<text x="1029.60" y="922.51">0.8</text>
<text x="1118.10" y="922.51">2.9</text>
<text x="852.80" y="952.17">4.8</text>
<text x="941.00" y="952.17">4.1</text>
<text x="1029.60" y="952.17">0</text>
<text x="1118.10" y="952.17">3.8</text>
<text x="852.80" y="981.84">6.1</text>
<text x="941.00" y="981.84">5.6</text>
<text x="1029.60" y="981.84">1.9</text>
<text x="1118.10" y="981.84">4.2</text>
<text x="852.80" y="1012.46">5.0</text>
<text x="941.00" y="1012.46">2.4</text>
<text x="1029.60" y="1012.46">1.4</text>
<text x="1118.10" y="1012.46">3.6</text>
<text x="852.80" y="1042.12">6.0</text>
<text x="941.00" y="1042.12">1.5</text>
<text x="1029.60" y="1042.12">1.1</text>
<text x="1118.10" y="1042.12">4.1</text>
<text x="852.80" y="1071.79">6.9</text>
<text x="941.00" y="1071.79">1.8</text>
<text x="1029.60" y="1071.79">1.2</text>
<text x="1118.10" y="1071.79">4.6</text>
<text x="852.80" y="1102.41">5.1</text>
<text x="941.00" y="1102.41">2.2</text>
<text x="1029.60" y="1102.41">1.6</text>
<text x="1118.10" y="1102.41">4.3</text>
<text x="852.80" y="1132.08">2.9</text>
<text x="941.00" y="1132.08">1.8</text>
<text x="1029.60" y="1132.08">-0.2</text>
<text x="1118.10" y="1132.08">1.4</text>
<text x="852.80" y="1161.74">2.7</text>
<text x="941.00" y="1161.74">3.9</text>
<text x="1029.60" y="1161.74">2.5</text>
<text x="1118.10" y="1161.74">4.2</text>
<text x="852.80" y="1192.36">3.9</text>
<text x="941.00" y="1192.36">4.3</text>
<text x="1029.60" y="1192.36">1.4</text>
<text x="1118.10" y="1192.36">1.9</text>
<text x="852.80" y="1222.03">3.4</text>
<text x="941.00" y="1222.03">5.3</text>
<text x="1029.60" y="1222.03">2.1</text>
<text x="1118.10" y="1222.03">2.1</text>
<text x="852.80" y="1251.69">1.8</text>
<text x="941.00" y="1251.69">1.0</text>
<text x="1029.60" y="1251.69">0.7</text>
<text x="1118.10" y="1251.69">1.0</text>
<text x="852.80" y="1282.32">2.4</text>
<text x="941.00" y="1282.32">1.9</text>
<text x="1029.60" y="1282.32">0.4</text>
<text x="1118.10" y="1282.32">1.3</text>
<text x="852.80" y="1311.98">2.4</text>
<text x="941.00" y="1311.98">4.4</text>
<text x="1029.60" y="1311.98">0.5</text>
<text x="1118.10" y="1311.98">2.0</text>
</g>
<g font-size="24.5" font-style="italic" text-anchor="end" transform="scale(1,1.045)">
<text x="796.50" y="53.61">Rv0079</text>
<text x="796.50" y="83.27">Rv0080</text>
<text x="796.50" y="112.94">Rv0081</text>
<text x="796.50" y="143.56">Rv0082</text>
<text x="796.50" y="173.22">Rv0083</text>
<text x="796.50" y="202.89">Rv0569</text>
<text x="796.50" y="233.51">nrdZ</text>
<text x="796.50" y="263.18">Rv0571c</text>
<text x="796.50" y="292.84">pncB2</text>
<text x="796.50" y="323.46">Rv0574c</text>
<text x="796.50" y="353.13">Rv1592c</text>
<text x="796.50" y="382.79">Rv1733c</text>
<text x="796.50" y="413.42">Rv1734c</text>
<text x="796.50" y="443.08">narX</text>
<text x="796.50" y="472.75">narK2</text>
<text x="796.50" y="503.37">Rv1738</text>
<text x="796.50" y="533.03">Rv1813c</text>
<text x="796.50" y="562.70">ctpF</text>
<text x="796.50" y="593.32">Rv2003c</text>
<text x="796.50" y="622.99">Rv2005c</text>
<text x="796.50" y="653.61">fdxA</text>
<text x="796.50" y="683.27">Rv2028c</text>
<text x="796.50" y="712.94">pfkB</text>
<text x="796.50" y="743.56">Rv2030c</text>
<text x="796.50" y="773.22">hspX</text>
<text x="796.50" y="802.89">acg</text>
<text x="796.50" y="833.51">TB31.7</text>
<text x="796.50" y="863.18">Rv2624c</text>
<text x="796.50" y="892.84">Rv2625c</text>
<text x="796.50" y="923.46">hrp1</text>
<text x="796.50" y="953.13">Rv2627c</text>
<text x="796.50" y="982.79">Rv2628</text>
<text x="796.50" y="1013.42">Rv2629</text>
<text x="796.50" y="1043.08">Rv2630</text>
<text x="796.50" y="1072.75">Rv2631</text>
<text x="796.50" y="1103.37">Rv2659c</text>
<text x="796.50" y="1133.03">Rv3127</text>
<text x="796.50" y="1162.70">Rv3129</text>
<text x="796.50" y="1193.32">tgs1</text>
<text x="796.50" y="1222.99">Rv3131</text>
<text x="796.50" y="1252.65">devS</text>
<text x="796.50" y="1283.27">devR</text>
<text x="796.50" y="1312.94">Rv3134c</text>
</g>
<g font-size="24.5" text-anchor="middle" transform="scale(1,1.045)">
<text x="853.30" y="1354.09">1%O<tspan font-size="19">2</tspan></text>
<text x="941.00" y="1354.09">PBS</text>
<text x="1029.60" y="1354.09">pH</text>
<text x="1118.10" y="1354.09">StPh</text>
</g>
<defs><linearGradient id="gB" x1="0" y1="0" x2="0" y2="1">
<stop offset="0.0000" stop-color="#ed1c24"/>
<stop offset="0.0227" stop-color="#ed2028"/>
<stop offset="0.0455" stop-color="#ee262e"/>
<stop offset="0.0682" stop-color="#ee2d34"/>
<stop offset="0.0909" stop-color="#ef343b"/>
<stop offset="0.1136" stop-color="#f03c43"/>
<stop offset="0.1364" stop-color="#f0444b"/>
<stop offset="0.1591" stop-color="#f14d53"/>
<stop offset="0.1818" stop-color="#f2555b"/>
<stop offset="0.2045" stop-color="#f25f64"/>
<stop offset="0.2273" stop-color="#f3686d"/>
<stop offset="0.2500" stop-color="#f47277"/>
<stop offset="0.2727" stop-color="#f57b80"/>
<stop offset="0.2955" stop-color="#f5858a"/>
<stop offset="0.3182" stop-color="#f69094"/>
<stop offset="0.3409" stop-color="#f79a9e"/>
<stop offset="0.3636" stop-color="#f8a5a8"/>
<stop offset="0.3864" stop-color="#f9b0b2"/>
<stop offset="0.4091" stop-color="#fababd"/>
<stop offset="0.4318" stop-color="#fac6c8"/>
<stop offset="0.4545" stop-color="#fbd1d2"/>
<stop offset="0.4773" stop-color="#fcdcdd"/>
<stop offset="0.5000" stop-color="#fde8e8"/>
<stop offset="0.5227" stop-color="#fef3f4"/>
<stop offset="0.5455" stop-color="#ffffff"/>
<stop offset="0.5455" stop-color="#ffffff"/>
<stop offset="0.5682" stop-color="#f6f5fb"/>
<stop offset="0.6212" stop-color="#d7d5ec"/>
<stop offset="0.6970" stop-color="#afacd8"/>
<stop offset="0.7727" stop-color="#8281bf"/>
<stop offset="0.8258" stop-color="#6265ae"/>
<stop offset="0.8485" stop-color="#585caa"/>
<stop offset="0.9242" stop-color="#3e4aa0"/>
<stop offset="1.0000" stop-color="#2f429b"/>
</linearGradient></defs>
<rect x="1207.10" y="32.10" width="43.90" height="1347.90" fill="url(#gB)" stroke="#231f20" stroke-width="2.1" stroke-linejoin="round"/>
<g stroke="#231f20" stroke-width="2.1">
<line x1="1207.10" y1="154.64" x2="1214.70" y2="154.64"/>
<line x1="1243.40" y1="154.64" x2="1251.00" y2="154.64"/>
<line x1="1207.10" y1="358.86" x2="1214.70" y2="358.86"/>
<line x1="1243.40" y1="358.86" x2="1251.00" y2="358.86"/>
<line x1="1207.10" y1="563.09" x2="1214.70" y2="563.09"/>
<line x1="1243.40" y1="563.09" x2="1251.00" y2="563.09"/>
<line x1="1207.10" y1="767.32" x2="1214.70" y2="767.32"/>
<line x1="1243.40" y1="767.32" x2="1251.00" y2="767.32"/>
<line x1="1207.10" y1="971.55" x2="1214.70" y2="971.55"/>
<line x1="1243.40" y1="971.55" x2="1251.00" y2="971.55"/>
<line x1="1207.10" y1="1175.77" x2="1214.70" y2="1175.77"/>
<line x1="1243.40" y1="1175.77" x2="1251.00" y2="1175.77"/>
</g>
<g font-size="29.2" transform="scale(1,1.045)">
<text x="1266.50" y="157.91">6</text>
<text x="1266.50" y="353.13">4</text>
<text x="1266.50" y="548.34">2</text>
<text x="1266.50" y="743.56">0</text>
<text x="1266.50" y="939.73">-2</text>
<text x="1266.50" y="1134.95">-4</text>
<text x="1266.50" y="1330.16">-6</text>
</g>
<text x="673.80" y="24" font-size="30" font-weight="bold">B</text>
</svg></body></html>
